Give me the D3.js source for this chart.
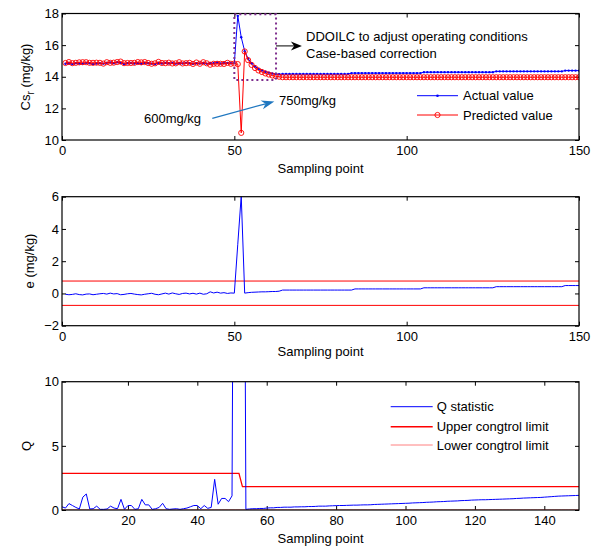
<!DOCTYPE html>
<html><head><meta charset="utf-8">
<script src="https://cdn.jsdelivr.net/npm/d3@7/dist/d3.min.js"></script>
<style>
body{margin:0;background:#fff}
text{font-family:"Liberation Sans",Arial,sans-serif;font-size:13px;fill:#000}
</style>
</head><body>
<svg id="c" width="599" height="549"></svg>
<script>
// ---------------- DATA ----------------
const samplePoints = d3.range(1, 151); // sampling point index 1..150

const actualValue = [
14.82,14.85,14.80,14.86,14.84,14.83,14.88,14.85,14.80,14.84,
14.86,14.83,14.88,14.90,14.86,14.92,14.88,14.80,14.85,14.87,
14.84,14.86,14.82,14.88,14.85,14.83,14.80,14.86,14.84,14.88,
14.85,14.87,14.83,14.86,14.84,14.88,14.85,14.82,14.86,14.84,
14.87,14.83,14.86,14.85,14.90,14.84,14.86,14.88,14.85,14.86,
17.85,16.50,15.62,15.15,14.85,14.65,14.50,14.40,14.32,14.26,
14.21,14.18,14.16,14.17,14.17,14.17,14.17,14.17,14.17,14.17,
14.17,14.17,14.17,14.17,14.17,14.17,14.17,14.17,14.17,14.17,
14.17,14.17,14.17,14.23,14.23,14.23,14.23,14.23,14.23,14.23,
14.23,14.23,14.23,14.23,14.23,14.23,14.23,14.23,14.23,14.23,
14.23,14.23,14.23,14.23,14.29,14.29,14.29,14.29,14.29,14.29,
14.29,14.29,14.29,14.29,14.29,14.29,14.29,14.29,14.29,14.29,
14.29,14.29,14.29,14.29,14.29,14.34,14.34,14.34,14.34,14.34,
14.34,14.34,14.34,14.34,14.34,14.34,14.34,14.34,14.34,14.34,
14.34,14.34,14.34,14.34,14.34,14.39,14.39,14.39,14.39,14.39
];

const predictedValue = [
14.87,14.93,14.86,14.88,14.91,14.92,14.92,14.88,14.88,14.89,
14.88,14.83,14.92,14.88,14.89,14.93,14.96,14.86,14.87,14.87,
14.88,14.93,14.91,14.93,14.87,14.82,14.85,14.94,14.87,14.86,
14.89,14.84,14.85,14.92,14.84,14.86,14.88,14.81,14.90,14.82,
14.92,14.85,14.76,14.82,14.82,14.82,14.81,14.88,14.82,14.84,
14.80,10.45,15.60,15.05,14.75,14.55,14.40,14.30,14.21,14.14,
14.08,14.04,14.00,13.97,13.97,13.97,13.97,13.97,13.97,13.97,
13.97,13.97,13.97,13.97,13.97,13.97,13.97,13.97,13.97,13.97,
13.97,13.97,13.97,13.97,13.97,13.97,13.97,13.97,13.97,13.97,
13.97,13.97,13.97,13.97,13.97,13.97,13.97,13.97,13.97,13.97,
13.97,13.97,13.97,13.97,13.97,13.97,13.97,13.97,13.97,13.97,
13.97,13.97,13.97,13.97,13.97,13.97,13.97,13.97,13.97,13.97,
13.97,13.97,13.97,13.97,13.97,13.97,13.97,13.97,13.97,13.97,
13.97,13.97,13.97,13.97,13.97,13.97,13.97,13.97,13.97,13.97,
13.97,13.97,13.97,13.97,13.97,13.97,13.97,13.97,13.97,13.97
];

const errorValue = [
-0.05,-0.08,-0.06,-0.02,-0.07,-0.09,-0.04,-0.03,-0.08,-0.05,
-0.02,0.00,-0.04,0.02,-0.03,-0.01,-0.08,-0.06,-0.02,0.00,
-0.04,-0.07,-0.09,-0.05,-0.02,0.01,-0.05,-0.08,-0.03,0.02,
-0.04,0.03,-0.02,-0.06,0.00,0.02,-0.03,0.01,-0.04,0.02,
-0.05,-0.02,0.10,0.03,0.08,0.02,0.05,0.00,0.03,0.02,
3.05,6.05,0.02,0.05,0.07,0.08,0.09,0.10,0.10,0.11,
0.12,0.12,0.14,0.21,0.21,0.21,0.21,0.21,0.21,0.21,
0.21,0.21,0.21,0.21,0.21,0.21,0.21,0.21,0.21,0.21,
0.21,0.21,0.21,0.21,0.28,0.28,0.28,0.28,0.28,0.28,
0.28,0.28,0.28,0.28,0.28,0.28,0.28,0.28,0.28,0.28,
0.28,0.28,0.28,0.28,0.35,0.35,0.35,0.35,0.35,0.35,
0.35,0.35,0.35,0.35,0.35,0.35,0.35,0.35,0.35,0.35,
0.35,0.35,0.35,0.35,0.35,0.42,0.42,0.42,0.42,0.42,
0.42,0.42,0.42,0.42,0.42,0.42,0.42,0.42,0.42,0.42,
0.42,0.42,0.42,0.42,0.42,0.49,0.49,0.49,0.49,0.49
];
const errorUpperLimit = 0.77;
const errorLowerLimit = -0.74;

const qStatistic = [
0.25,0.15,0.50,0.35,0.20,0.08,1.00,1.25,0.08,0.10,
0.30,0.05,0.05,0.08,0.30,0.15,0.10,0.83,0.05,0.35,
0.35,0.05,0.10,0.83,0.40,0.40,0.05,0.10,0.20,0.52,
0.10,0.05,0.08,0.10,0.05,0.10,0.15,0.25,0.35,0.35,
0.10,0.35,0.13,0.20,2.39,0.45,0.90,0.90,0.65,1.10,
60.0,80.0,60.0,0.05,0.08,0.10,0.10,0.12,0.12,0.15,
0.17,0.17,0.20,0.20,0.22,0.22,0.22,0.24,0.24,0.25,
0.25,0.27,0.27,0.28,0.30,0.30,0.30,0.32,0.33,0.34,
0.35,0.35,0.36,0.37,0.38,0.38,0.39,0.40,0.40,0.41,
0.43,0.44,0.45,0.46,0.47,0.48,0.49,0.50,0.51,0.52,
0.53,0.55,0.56,0.57,0.58,0.60,0.61,0.62,0.64,0.65,
0.66,0.68,0.69,0.70,0.71,0.73,0.74,0.75,0.77,0.78,
0.79,0.80,0.80,0.81,0.82,0.83,0.84,0.85,0.86,0.87,
0.88,0.90,0.91,0.93,0.94,0.95,0.96,0.97,0.98,1.00,
1.02,1.04,1.06,1.08,1.09,1.10,1.11,1.12,1.13,1.14
];

const upperControlLimit = [
2.85,2.85,2.85,2.85,2.85,2.85,2.85,2.85,2.85,2.85,
2.85,2.85,2.85,2.85,2.85,2.85,2.85,2.85,2.85,2.85,
2.85,2.85,2.85,2.85,2.85,2.85,2.85,2.85,2.85,2.85,
2.85,2.85,2.85,2.85,2.85,2.85,2.85,2.85,2.85,2.85,
2.85,2.85,2.85,2.85,2.85,2.85,2.85,2.85,2.85,2.85,
2.85,2.85,1.82,1.82,1.82,1.82,1.82,1.82,1.82,1.82,
1.82,1.82,1.82,1.82,1.82,1.82,1.82,1.82,1.82,1.82,
1.82,1.82,1.82,1.82,1.82,1.82,1.82,1.82,1.82,1.82,
1.82,1.82,1.82,1.82,1.82,1.82,1.82,1.82,1.82,1.82,
1.82,1.82,1.82,1.82,1.82,1.82,1.82,1.82,1.82,1.82,
1.82,1.82,1.82,1.82,1.82,1.82,1.82,1.82,1.82,1.82,
1.82,1.82,1.82,1.82,1.82,1.82,1.82,1.82,1.82,1.82,
1.82,1.82,1.82,1.82,1.82,1.82,1.82,1.82,1.82,1.82,
1.82,1.82,1.82,1.82,1.82,1.82,1.82,1.82,1.82,1.82,
1.82,1.82,1.82,1.82,1.82,1.82,1.82,1.82,1.82,1.82
];
const lowerControlLimit = [
0,0,0,0,0,0,0,0,0,0, 0,0,0,0,0,0,0,0,0,0, 0,0,0,0,0,0,0,0,0,0,
0,0,0,0,0,0,0,0,0,0, 0,0,0,0,0,0,0,0,0,0, 0,0,0,0,0,0,0,0,0,0,
0,0,0,0,0,0,0,0,0,0, 0,0,0,0,0,0,0,0,0,0, 0,0,0,0,0,0,0,0,0,0,
0,0,0,0,0,0,0,0,0,0, 0,0,0,0,0,0,0,0,0,0, 0,0,0,0,0,0,0,0,0,0,
0,0,0,0,0,0,0,0,0,0, 0,0,0,0,0,0,0,0,0,0, 0,0,0,0,0,0,0,0,0,0
];

const xTicks12 = [0, 50, 100, 150];
const xTicks3 = [20, 40, 60, 80, 100, 120, 140];
const yTicks1 = [10, 12, 14, 16, 18];
const yTicks2 = [-2, 0, 2, 4, 6];
const yTicks3 = [0, 5, 10];
const legend1 = ["Actual value", "Predicted value"];
const legend3 = ["Q statistic", "Upper congtrol limit", "Lower congtrol limit"];
const xLabel = "Sampling point";

// annotation anchors (data units of panel 1)
const dashBox = {x0: 50, x1: 62.1, y0: 13.8, y1: 17.95};
const blackArrow = {x0: 62.1, x1: 69.6, y: 15.95};
const blueArrow = {x0: 43.6, y0: 11.37, x1: 61.6, y1: 12.44};
const noteLines = ["DDOILC to adjust operating conditions", "Case-based correction"];

// ---------------- DRAW ----------------
const svg = d3.select("#c");
const L = 62, R = 579;
const BLUE = "#0000ff", RED = "#ff0000";

function panel(id, top, bottom, xDom, yDom, xT, yT) {
  const x = d3.scaleLinear().domain(xDom).range([L, R]);
  const y = d3.scaleLinear().domain(yDom).range([bottom, top]);
  const g = svg.append("g");
  svg.append("clipPath").attr("id", id).append("rect")
    .attr("x", L).attr("y", top).attr("width", R - L).attr("height", bottom - top);
  const style = a => { a.select(".domain").remove(); a.selectAll("line").attr("stroke", "#000"); a.selectAll("text").attr("font-size", 13).attr("font-family", '"Liberation Sans",Arial,sans-serif').attr("fill", "#000"); };
  g.append("g").attr("transform", `translate(0,${bottom})`)
    .call(d3.axisBottom(x).tickValues(xT).tickSizeInner(-4).tickSizeOuter(0).tickPadding(6)).call(style);
  g.append("g").attr("transform", `translate(0,${top})`)
    .call(d3.axisTop(x).tickValues(xT).tickSizeInner(-4).tickSizeOuter(0).tickFormat("")).call(style);
  g.append("g").attr("transform", `translate(${L},0)`)
    .call(d3.axisLeft(y).tickValues(yT).tickSizeInner(-4).tickSizeOuter(0).tickPadding(3)).call(style);
  g.append("g").attr("transform", `translate(${R},0)`)
    .call(d3.axisRight(y).tickValues(yT).tickSizeInner(-4).tickSizeOuter(0).tickFormat("")).call(style);
  const plot = svg.append("g").attr("clip-path", `url(#${id})`);
  const box = () => svg.append("rect").attr("x", L).attr("y", top).attr("width", R - L)
    .attr("height", bottom - top).attr("fill", "none").attr("stroke", "#000").attr("stroke-width", 1.2);
  return {x, y, g, plot, box};
}

// ---- Panel 1 ----
const p1 = panel("clip1", 13.5, 140, [0, 150], [10, 18], xTicks12, yTicks1);
const line1 = d3.line().x((d, i) => p1.x(samplePoints[i])).y(d => p1.y(d));
p1.plot.append("path").datum(actualValue).attr("d", line1).attr("fill", "none").attr("stroke", BLUE).attr("stroke-width", 1);
p1.plot.selectAll(".am").data(actualValue).enter().append("circle")
  .attr("cx", (d, i) => p1.x(samplePoints[i])).attr("cy", d => p1.y(d)).attr("r", 1.2).attr("fill", BLUE);
p1.plot.append("path").datum(predictedValue).attr("d", line1).attr("fill", "none").attr("stroke", RED).attr("stroke-width", 1);
p1.plot.selectAll(".pm").data(predictedValue).enter().append("circle")
  .attr("cx", (d, i) => p1.x(samplePoints[i])).attr("cy", d => p1.y(d)).attr("r", 2.6)
  .attr("fill", "none").attr("stroke", RED).attr("stroke-width", 0.9);
p1.box();

// dashed box
svg.append("rect").attr("x", p1.x(dashBox.x0)).attr("y", p1.y(dashBox.y1))
  .attr("width", p1.x(dashBox.x1) - p1.x(dashBox.x0)).attr("height", p1.y(dashBox.y0) - p1.y(dashBox.y1))
  .attr("fill", "none").attr("stroke", "#7e2f8e").attr("stroke-width", 2).attr("stroke-dasharray", "2,3");

function arrow(x0, y0, x1, y1, color, hl, hw, sw) {
  const ang = Math.atan2(y1 - y0, x1 - x0);
  const c = Math.cos(ang), s = Math.sin(ang);
  const bx = x1 - hl * c, by = y1 - hl * s;
  const nx = x1 - hl * 0.7 * c, ny = y1 - hl * 0.7 * s;
  svg.append("line").attr("x1", x0).attr("y1", y0).attr("x2", nx).attr("y2", ny)
    .attr("stroke", color).attr("stroke-width", sw);
  const pts = [[x1, y1], [bx - hw / 2 * s, by + hw / 2 * c], [nx, ny], [bx + hw / 2 * s, by - hw / 2 * c]];
  svg.append("path").attr("d", "M" + pts.map(p => p.join(",")).join("L") + "Z").attr("fill", color);
}
arrow(p1.x(blackArrow.x0), p1.y(blackArrow.y), p1.x(blackArrow.x1), p1.y(blackArrow.y), "#000", 11, 9, 1);
arrow(p1.x(blueArrow.x0), p1.y(blueArrow.y0), p1.x(blueArrow.x1), p1.y(blueArrow.y1), "#1f77c0", 13, 9, 1.2);

svg.append("text").attr("x", 306).attr("y", 41).text(noteLines[0]);
svg.append("text").attr("x", 306).attr("y", 57.5).text(noteLines[1]);
svg.append("text").attr("x", 144).attr("y", 122.5).text("600mg/kg");
svg.append("text").attr("x", 279).attr("y", 105).text("750mg/kg");

// legend 1
[[BLUE, 95.7], [RED, 115]].forEach(([col, yy], k) => {
  svg.append("line").attr("x1", 417).attr("x2", 458).attr("y1", yy).attr("y2", yy).attr("stroke", col);
  if (k === 0) svg.append("circle").attr("cx", 437.5).attr("cy", yy).attr("r", 1.3).attr("fill", col);
  else svg.append("circle").attr("cx", 437.5).attr("cy", yy).attr("r", 2.6).attr("fill", "none").attr("stroke", col).attr("stroke-width", 0.9);
  svg.append("text").attr("x", 463).attr("y", yy + 4.5).text(legend1[k]);
});

svg.append("text").attr("x", 320.5).attr("y", 173).attr("text-anchor", "middle").text(xLabel);
const yl1 = svg.append("text").attr("transform", "translate(30,77) rotate(-90)").attr("text-anchor", "middle");
yl1.append("tspan").text("Cs");
yl1.append("tspan").attr("font-size", 10).attr("dy", 4).text("r");
yl1.append("tspan").attr("dy", -4).text(" (mg/kg)");

// ---- Panel 2 ----
const p2 = panel("clip2", 196.7, 325.7, [0, 150], [-2, 6], xTicks12, yTicks2);
const line2 = d3.line().x((d, i) => p2.x(samplePoints[i])).y(d => p2.y(d));
[errorUpperLimit, errorLowerLimit].forEach(v => {
  p2.plot.append("line").attr("x1", p2.x(0)).attr("x2", p2.x(150)).attr("y1", p2.y(v)).attr("y2", p2.y(v))
    .attr("stroke", RED).attr("stroke-width", 1);
});
p2.plot.append("path").datum(errorValue).attr("d", line2).attr("fill", "none").attr("stroke", BLUE).attr("stroke-width", 1);
p2.box();
svg.append("text").attr("x", 320.5).attr("y", 356).attr("text-anchor", "middle").text(xLabel);
svg.append("text").attr("transform", "translate(34,261) rotate(-90)").attr("text-anchor", "middle").text("e (mg/kg)");

// ---- Panel 3 ----
const p3 = panel("clip3", 381.7, 510, [1, 150], [0, 10], xTicks3, yTicks3);
const line3 = d3.line().x((d, i) => p3.x(samplePoints[i])).y(d => p3.y(d));
p3.plot.append("path").datum(lowerControlLimit).attr("d", line3).attr("fill", "none").attr("stroke", "#ff5050").attr("stroke-width", 1);
p3.plot.append("path").datum(upperControlLimit).attr("d", line3).attr("fill", "none").attr("stroke", RED).attr("stroke-width", 1.3);
p3.plot.append("path").datum(qStatistic).attr("d", line3).attr("fill", "none").attr("stroke", BLUE).attr("stroke-width", 1);
p3.box();
[[BLUE, 406.7, 1], [RED, 426.7, 1.5], ["#ff6060", 445, 0.8]].forEach(([col, yy, w], k) => {
  svg.append("line").attr("x1", 390.7).attr("x2", 432.7).attr("y1", yy).attr("y2", yy).attr("stroke", col).attr("stroke-width", w);
  svg.append("text").attr("x", 436.7).attr("y", yy + 4.5).text(legend3[k]);
});
svg.append("text").attr("x", 320.5).attr("y", 543).attr("text-anchor", "middle").text(xLabel);
svg.append("text").attr("transform", "translate(31,446) rotate(-90)").attr("text-anchor", "middle").text("Q");
</script>
</body></html>
